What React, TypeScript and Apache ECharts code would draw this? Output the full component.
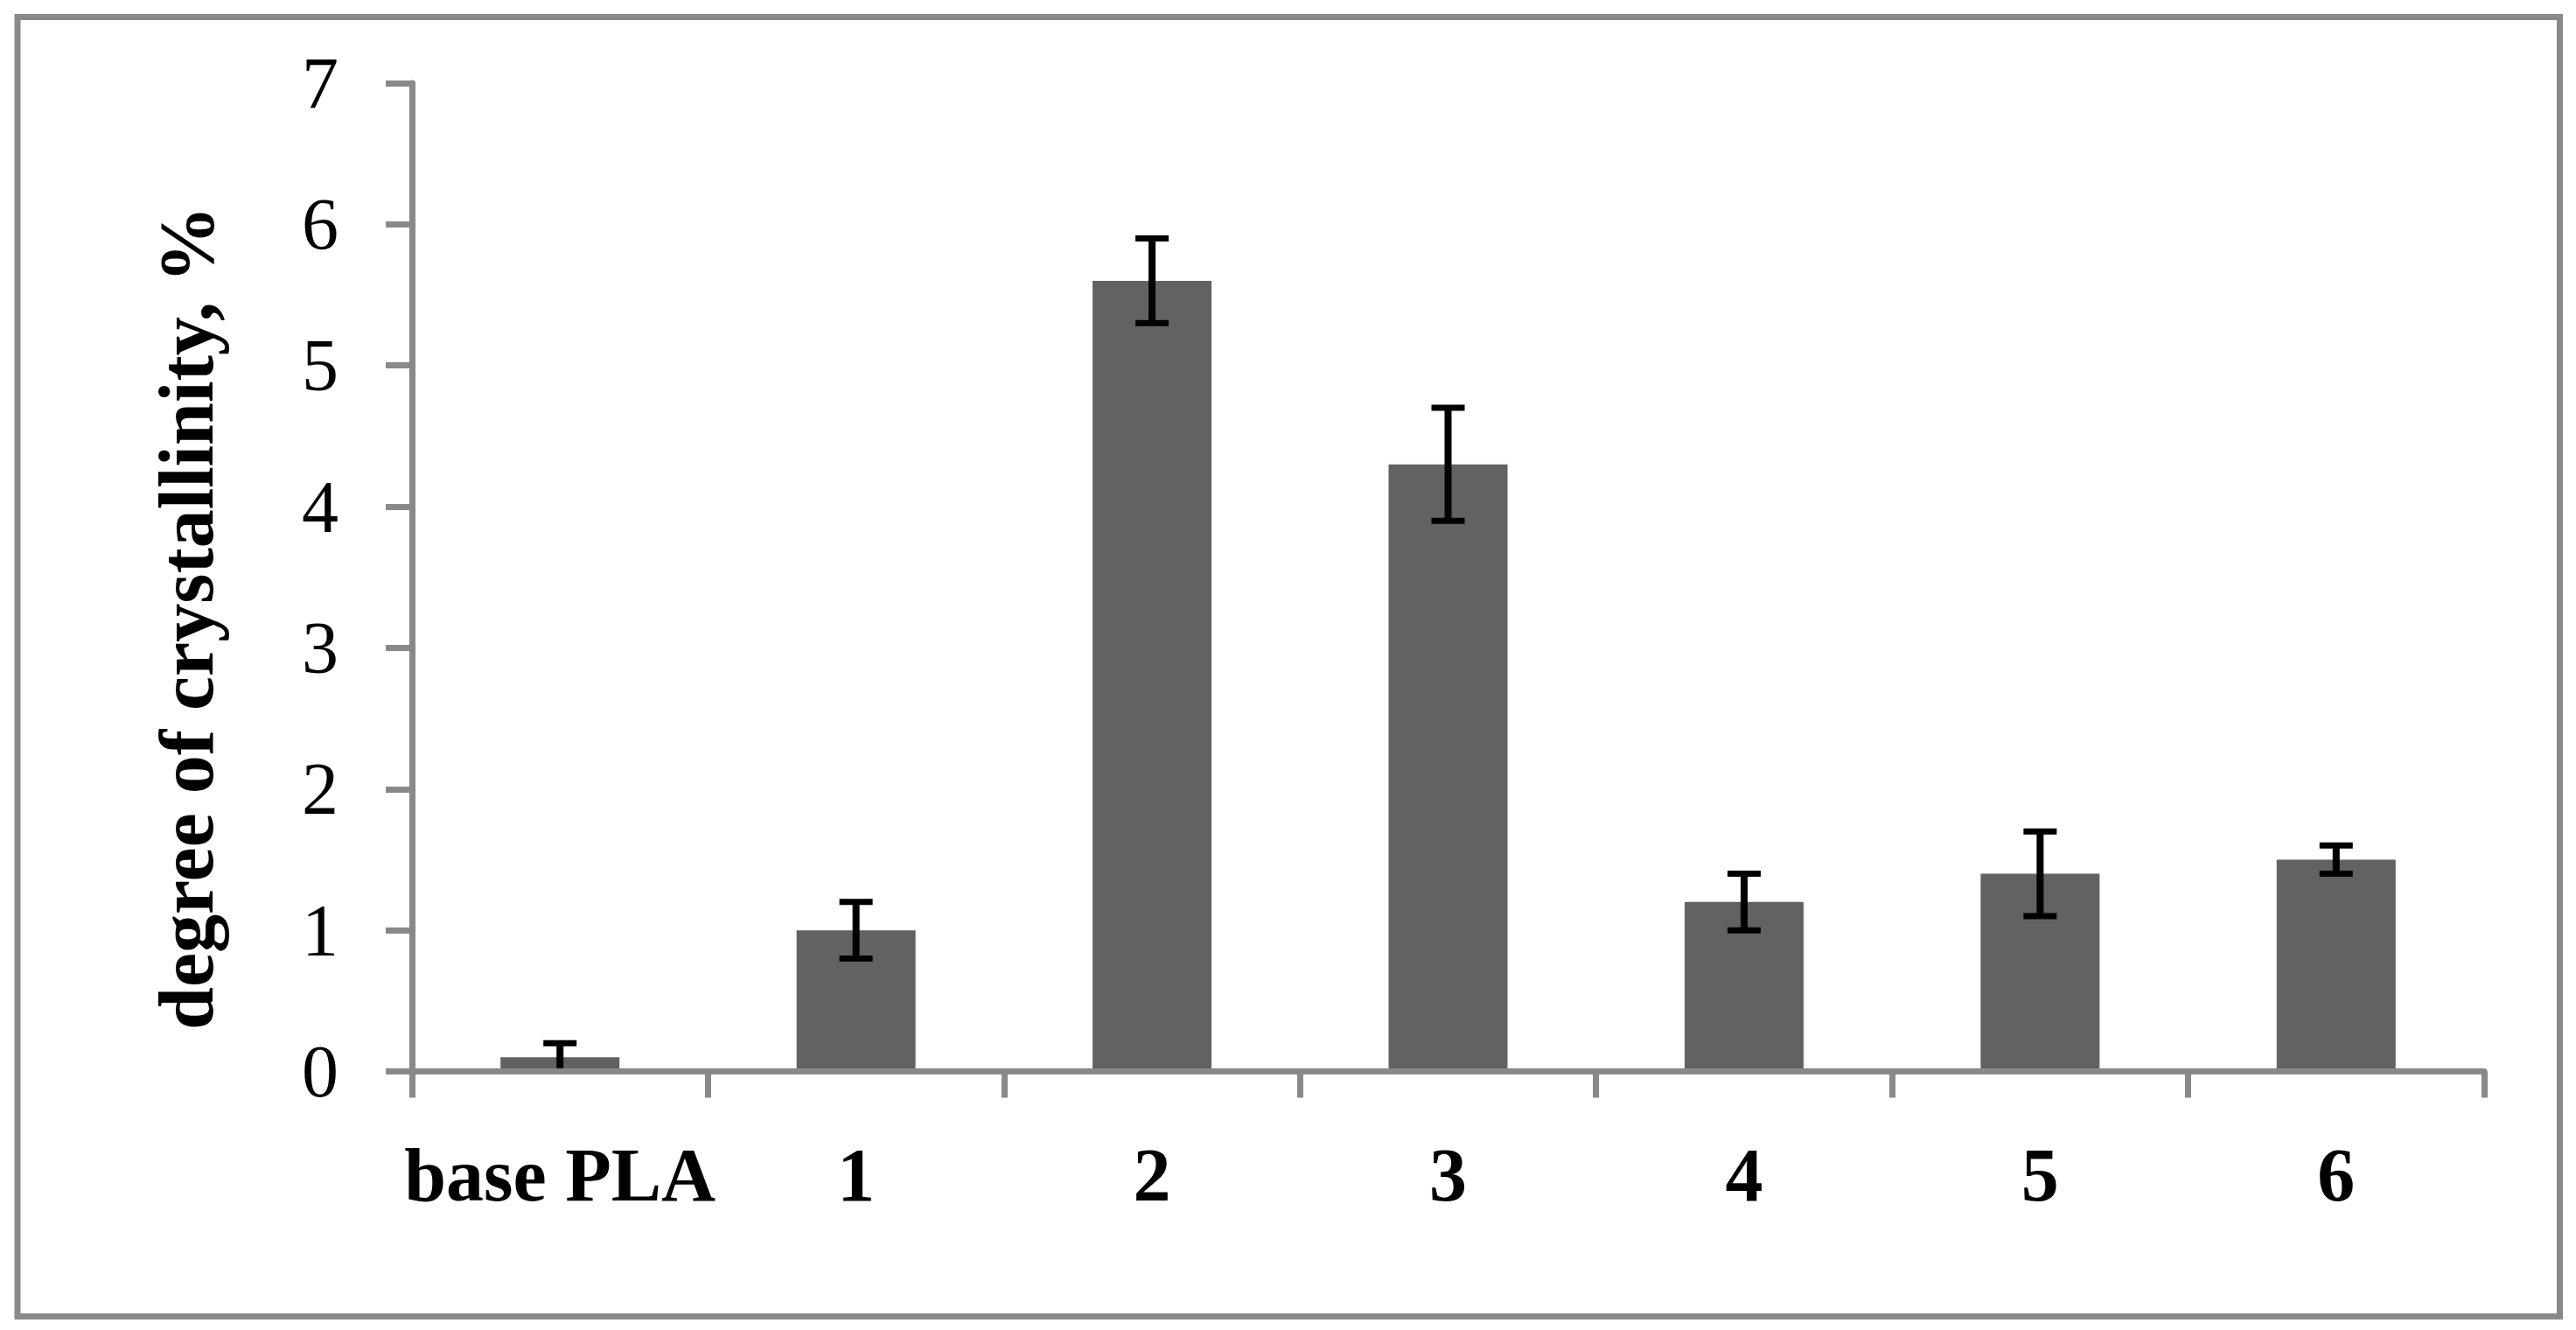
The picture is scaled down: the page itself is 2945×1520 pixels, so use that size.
import React, { useEffect, useRef } from "react";
import * as echarts from "echarts";

const categories = ["base PLA", "1", "2", "3", "4", "5", "6"];
const crystallinity = [0.1, 1.0, 5.6, 4.3, 1.2, 1.4, 1.5];
const errorMargin = [0.1, 0.2, 0.3, 0.4, 0.2, 0.3, 0.1];
const yMin = 0;
const yMax = 7;
const yStep = 1;
const yTitle = "degree of crystallinity, %";

const W = 2945;
const H = 1520;
const AXIS_COLOR = "#898989";
const FONT = "'Liberation Serif', 'Times New Roman', serif";

export default function App() {
  const ref = useRef<HTMLDivElement>(null);

  useEffect(() => {
    if (!ref.current) return;
    const chart = echarts.init(ref.current, undefined, { renderer: "svg" });

    const errData = categories.map((_, i) => [
      i,
      crystallinity[i] - errorMargin[i],
      crystallinity[i] + errorMargin[i],
    ]);

    const option: any = {
      animation: false,
      backgroundColor: "#ffffff",
      grid: { left: 471, right: 105, top: 95, bottom: 295.5, containLabel: false },
      xAxis: {
        type: "category",
        data: categories,
        z: 10,
        boundaryGap: true,
        axisLine: { show: true, lineStyle: { color: AXIS_COLOR, width: 7 } },
        axisTick: {
          show: true,
          length: 30,
          inside: false,
          interval: 0,
          alignWithLabel: false,
          lineStyle: { color: AXIS_COLOR, width: 7 },
        },
        axisLabel: {
          interval: 0,
          hideOverlap: false,
          margin: 75,
          color: "#000",
          fontFamily: FONT,
          fontWeight: "bold",
          fontSize: 86,
        },
        splitLine: { show: false },
      },
      yAxis: {
        type: "value",
        min: yMin,
        max: yMax,
        interval: yStep,
        z: 10,
        axisLine: { show: true, lineStyle: { color: AXIS_COLOR, width: 7 } },
        axisTick: { show: true, length: 30, lineStyle: { color: AXIS_COLOR, width: 7 } },
        axisLabel: {
          margin: 84,
          color: "#000",
          fontFamily: FONT,
          fontSize: 84,
        },
        splitLine: { show: false },
      },
      graphic: [
        {
          type: "rect",
          shape: { x: 20, y: 19.5, width: 2906.5, height: 1485 },
          style: { fill: "none", stroke: AXIS_COLOR, lineWidth: 7 },
          z: 0,
          silent: true,
        },
        {
          type: "text",
          x: 213,
          y: 706,
          rotation: Math.PI / 2,
          style: {
            text: yTitle,
            fontFamily: FONT,
            fontWeight: "bold",
            fontSize: 88,
            fill: "#000",
            align: "center",
            verticalAlign: "middle",
          },
          z: 5,
        },
      ],
      series: [
        {
          type: "bar",
          data: crystallinity,
          barWidth: 136,
          itemStyle: { color: "#626262" },
          z: 2,
        },
        {
          type: "custom",
          data: errData,
          z: 3,
          clip: false,
          renderItem: (params: any, api: any) => {
            const x = api.value(0);
            const lo = api.coord([x, api.value(1)]);
            const hi = api.coord([x, api.value(2)]);
            const cx = hi[0];
            const capHalf = 19;
            const stroke = { stroke: "#000", lineWidth: 7 };
            return {
              type: "group",
              children: [
                {
                  type: "line",
                  shape: { x1: cx, y1: hi[1], x2: cx, y2: lo[1] },
                  style: { stroke: "#000", lineWidth: 8 },
                },
                {
                  type: "line",
                  shape: { x1: cx - capHalf, y1: hi[1], x2: cx + capHalf, y2: hi[1] },
                  style: stroke,
                },
                {
                  type: "line",
                  shape: { x1: cx - capHalf, y1: lo[1], x2: cx + capHalf, y2: lo[1] },
                  style: stroke,
                },
              ],
            };
          },
        },
      ],
    };

    chart.setOption(option);
    return () => chart.dispose();
  }, []);

  return (
    <div
      ref={ref}
      style={{ position: "absolute", left: 0, top: 0, width: W, height: H }}
    />
  );
}
